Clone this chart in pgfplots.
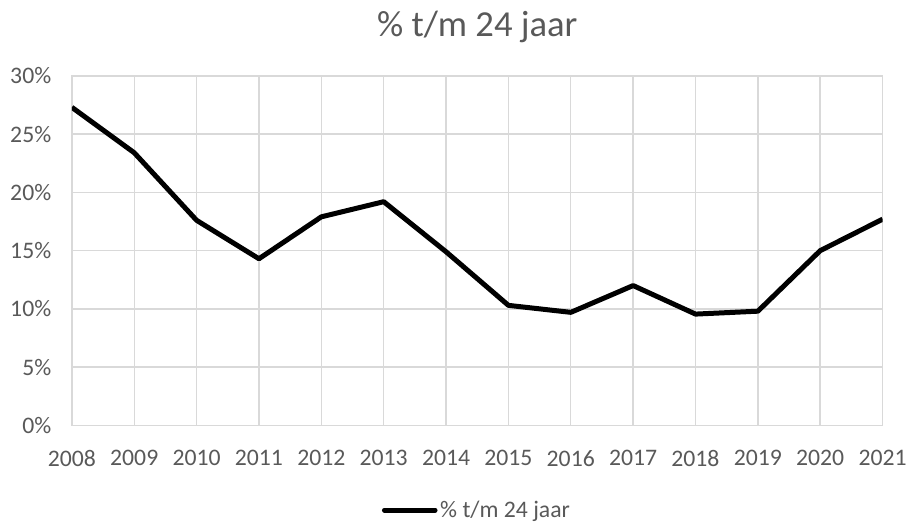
\documentclass[border=0pt]{standalone}
\usepackage{pgfplots}
\pgfplotsset{compat=1.18}
\usepackage{fontspec}
\setmainfont{Carlito}
\definecolor{txt}{HTML}{595959}
\definecolor{grd}{HTML}{D9D9D9}
\begin{document}
\begin{tikzpicture}[x=1pt,y=1pt]
\begin{axis}[
  scale only axis,
  width=609pt, height=262.5pt,
  xmin=2008, xmax=2021, ymin=0, ymax=30,
  xtick={2008,...,2021},
  ytick={0,5,...,30},
  yticklabels={0\%,5\%,10\%,15\%,20\%,25\%,30\%},
  x tick label style={/pgf/number format/1000 sep={}},
  /pgf/number format/assume math mode=true,
  tick label style={font=\fontsize{17.8}{20}\selectfont, text=txt},
  grid=major,
  major grid style={grd, line width=1.1pt},
  axis line style={grd, line width=1.1pt},
  major tick length=0pt,
  xticklabel style={yshift=-15pt},
  yticklabel style={xshift=-12pt},
  title={\% t/m 24 jaar},
  title style={font=\fontsize{27.5}{30}\selectfont, text=txt, at={(0.5,1)}, yshift=15pt},
  legend style={at={(0.5,-0.2)}, anchor=north, draw=none, font=\fontsize{17.8}{20}\selectfont, text=txt},
  legend image code/.code={\draw[#1, line width=3.75pt, line cap=round] (0pt,0pt) -- (38pt,0pt);},
]
\addplot[black, line width=3.75pt, line join=round] coordinates {
(2008,27.3) (2009,23.4) (2010,17.6) (2011,14.3) (2012,17.9) (2013,19.2)
(2014,14.9) (2015,10.3) (2016,9.7) (2017,12.0) (2018,9.55) (2019,9.8)
(2020,15.0) (2021,17.7)};
\addlegendentry{\% t/m 24 jaar}
\end{axis}
\path (-54pt,-71.25pt) rectangle (629.25pt,319.5pt);
\end{tikzpicture}
\end{document}
